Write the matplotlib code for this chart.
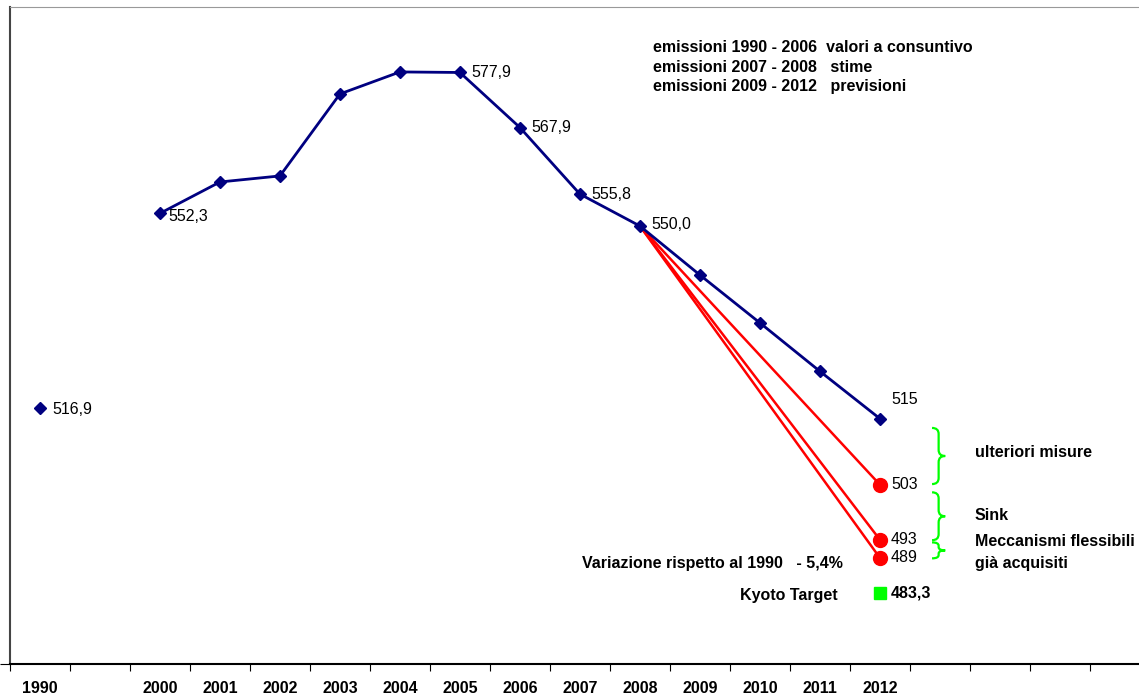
import numpy as np
import matplotlib.pyplot as plt
from matplotlib.path import Path
from matplotlib.patches import PathPatch

plt.rcParams['font.family'] = ['Liberation Sans', 'DejaVu Sans']

# category slots on the x axis (one empty slot between 1990 and 2000)
tick_labels = ['1990', '', '2000', '2001', '2002', '2003', '2004', '2005',
               '2006', '2007', '2008', '2009', '2010', '2011', '2012']

# emissions (Mt CO2 eq.)
hist_slots = [0, 2, 3, 4, 5, 6, 7, 8, 9, 10, 11, 12, 13, 14]
hist_values = [516.9, 552.3, 558.0, 559.1, 574.0, 578.0, 577.9, 567.9,
               555.8, 550.0, 541.1, 532.4, 523.6, 515.0]
hist_labels = {0: '516,9', 2: '552,3', 7: '577,9', 8: '567,9', 9: '555,8',
               10: '550,0', 14: '515'}

# scenarios from 2008 to 2012
scen_start = 550.0
scen_end = [503, 493, 489.7]
scen_labels = ['503', '493', '489']

kyoto_target = 483.3

fig = plt.figure(figsize=(11.39, 6.97), dpi=100)
ax = fig.add_axes([10/1139, 33/697, 1129/1139, 657/697])
ax.set_xlim(-0.5, 18.32)
ax.set_ylim(470.4, 589.8)

navy = '#000080'
ax.plot(hist_slots[:1], hist_values[:1], 'D', color=navy, ms=6.5)
ax.plot(hist_slots[1:], hist_values[1:], '-D', color=navy, lw=2, ms=6.5)

for v in scen_end:
    ax.plot([10, 14], [scen_start, v], color='#ff0000', lw=1.8, zorder=1)
ax.plot([14] * 3, scen_end, 'o', color='#ff0000', ms=10, zorder=3)
ax.plot([14], [kyoto_target], 's', color='#00ff00', ms=8)

fs = 11.5
# data labels
offs = {0: (9, -1), 2: (6, -2), 7: (8, 0), 8: (8, 0), 9: (8, 0),
        10: (8, 1), 14: (8, 14)}
for s, v in zip(hist_slots, hist_values):
    if s in hist_labels:
        ax.annotate(hist_labels[s], (s, v), xytext=offs[s],
                    textcoords='offset points', fontsize=fs,
                    va='center', ha='left')
for v, lab in zip(scen_end, scen_labels):
    ax.annotate(lab, (14, v), xytext=(8, 0), textcoords='offset points',
                fontsize=fs, va='center', ha='left')
ax.annotate('483,3', (14, kyoto_target), xytext=(8, 0),
            textcoords='offset points', fontsize=fs, va='center',
            ha='left', fontweight='bold')


def brace(x, y0, y1, w, h):
    # curly brace pointing right; y0 top, y1 bottom (data units)
    ym = (y0 + y1) / 2
    xm = x + w / 2
    verts = [(x, y0), (xm, y0), (xm, y0 - h),
             (xm, ym + h), (xm, ym), (x + w, ym),
             (xm, ym), (xm, ym - h),
             (xm, y1 + h), (xm, y1), (x, y1)]
    codes = [Path.MOVETO, Path.CURVE3, Path.CURVE3,
             Path.LINETO, Path.CURVE3, Path.CURVE3,
             Path.CURVE3, Path.CURVE3,
             Path.LINETO, Path.CURVE3, Path.CURVE3]
    ax.add_patch(PathPatch(Path(verts, codes), fill=False,
                           ec='#00ff00', lw=1.6, clip_on=False))


brace(14.87, 513.3, 503.1, 0.22, 1.1)
brace(14.87, 501.6, 492.9, 0.22, 1.1)
brace(14.87, 492.5, 489.6, 0.22, 0.6)

bold = dict(fontsize=fs, fontweight='bold', va='center', ha='left')
ax.text(15.58, 508.8, 'ulteriori misure', **bold)
ax.text(15.58, 497.3, 'Sink', **bold)
ax.text(15.58, 492.7, 'Meccanismi flessibili', **bold)
ax.text(15.58, 488.7, 'già acquisiti', **bold)
ax.text(13.38, 488.6, 'Variazione rispetto al 1990   - 5,4%',
        fontsize=fs, fontweight='bold', va='center', ha='right')
ax.text(13.3, 482.8, 'Kyoto Target', fontsize=fs, fontweight='bold',
        va='center', ha='right')

notes = ['emissioni 1990 - 2006  valori a consuntivo',
         'emissioni 2007 - 2008   stime',
         'emissioni 2009 - 2012   previsioni']
for i, line in enumerate(notes):
    fig.text(653/1139, 1 - (47 + 20 * i)/697, line, fontsize=fs,
             fontweight='bold', va='center', ha='left')

# axes styling
ax.spines['right'].set_visible(False)
ax.spines['top'].set_color('#999999')
ax.spines['left'].set_color('#444444')
ax.spines['left'].set_linewidth(1.5)
ax.spines['bottom'].set_linewidth(1.5)
ax.set_xticks(np.arange(-0.5, 18.32, 1))
ax.set_xticklabels([])
ax.set_xticks(np.arange(len(tick_labels)), minor=True)
ax.set_xticklabels(tick_labels, minor=True, fontsize=fs, fontweight='bold')
ax.tick_params(axis='x', which='major', length=5, direction='out')
ax.tick_params(axis='x', which='minor', length=0, pad=12)
ax.set_yticks([470.4])
ax.set_yticklabels([])
ax.tick_params(axis='y', length=7)

fig.savefig('out.png', dpi=100)
